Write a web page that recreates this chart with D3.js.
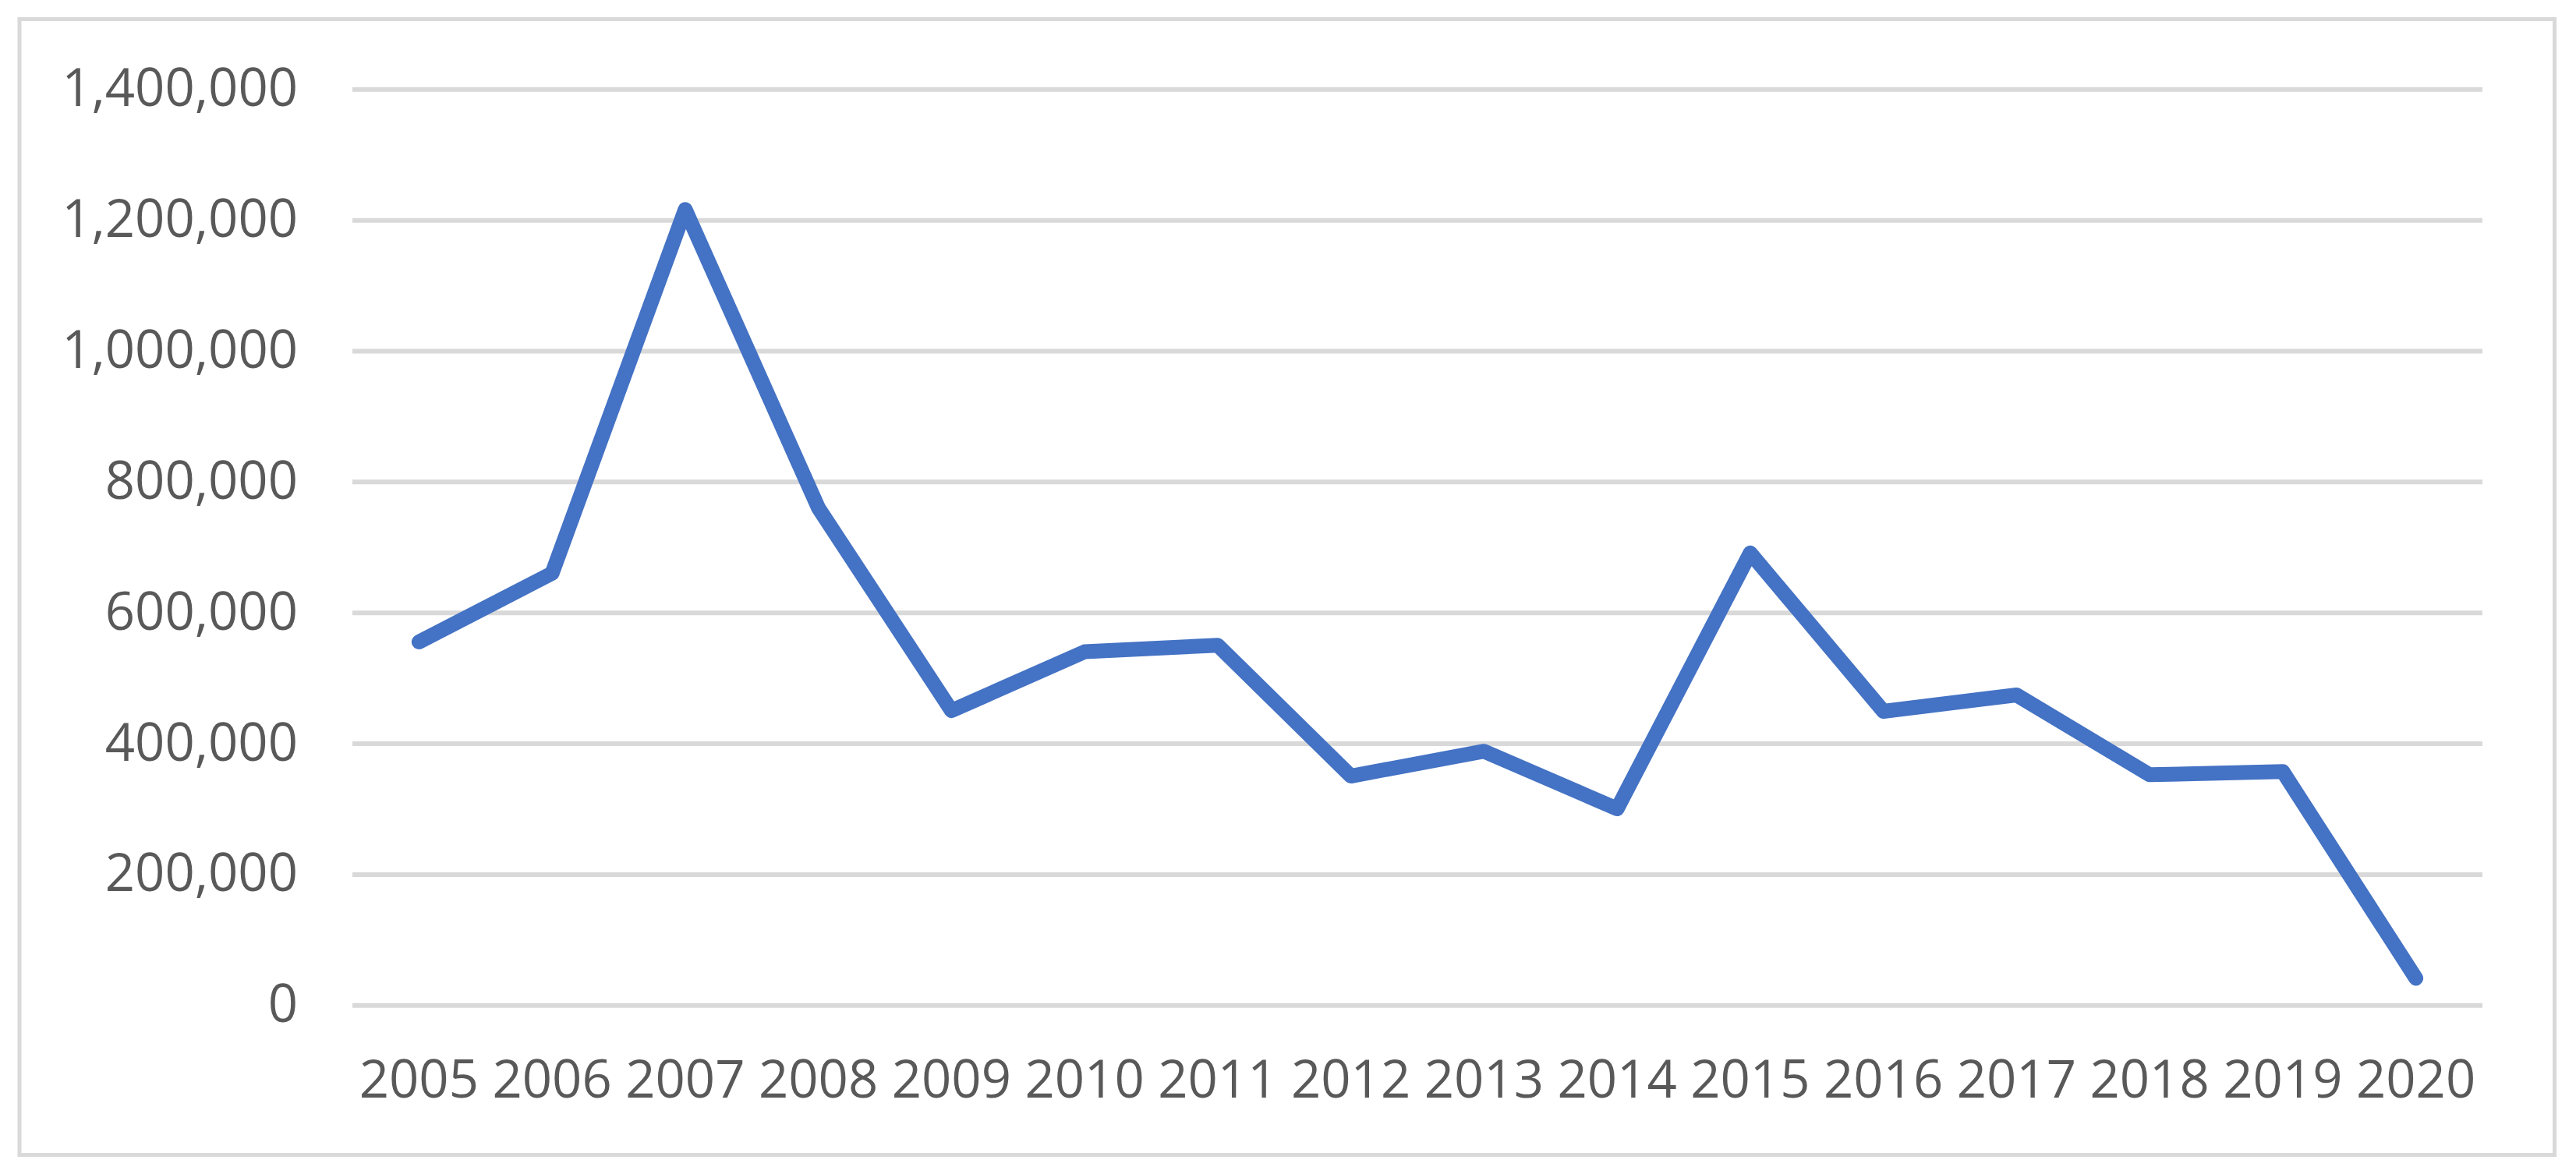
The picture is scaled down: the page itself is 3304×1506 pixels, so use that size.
<!DOCTYPE html>
<html>
<head>
<meta charset="utf-8">
<script src="https://cdn.jsdelivr.net/npm/d3@7"></script>
<style>
  html, body { margin: 0; padding: 0; background: #ffffff; }
  svg { display: block; }
</style>
</head>
<body>
<svg id="chart" width="3304" height="1506"></svg>
<script>
const years = ["2005","2006","2007","2008","2009","2010","2011","2012","2013","2014","2015","2016","2017","2018","2019","2020"];
const values = [555000, 660000, 1216000, 760000, 450000, 540000, 550000, 350000, 388000, 300000, 691000, 449000, 474000, 352000, 357000, 41000];
const yTicks = [0, 200000, 400000, 600000, 800000, 1000000, 1200000, 1400000];

const W = 3304, H = 1506;
const plot = { left: 452, right: 3184, top: 114.3, bottom: 1289.3 };
const font = "'Open Sans', sans-serif";
const textColor = "#595959";
const gridColor = "#d9d9d9";

const svg = d3.select("#chart");

svg.append("rect").attr("x", 0).attr("y", 0).attr("width", W).attr("height", H).attr("fill", "#ffffff");

// outer chart border
svg.append("rect")
  .attr("x", 25).attr("y", 24.5)
  .attr("width", 3251.5).attr("height", 1457)
  .attr("fill", "none")
  .attr("stroke", gridColor)
  .attr("stroke-width", 5);

const x = d3.scaleBand().domain(years).range([plot.left, plot.right]).padding(0);
const y = d3.scaleLinear().domain([0, 1400000]).range([plot.bottom, plot.top]);

// gridlines
const grid = svg.append("g")
  .attr("transform", `translate(${plot.left},0)`)
  .call(d3.axisLeft(y).tickValues(yTicks).tickSize(-(plot.right - plot.left)).tickFormat(""));
grid.select(".domain").remove();
grid.selectAll("line").attr("stroke", gridColor).attr("stroke-width", 6);

// y axis labels
const yAxis = svg.append("g")
  .attr("transform", `translate(${plot.left},0)`)
  .call(d3.axisLeft(y).tickValues(yTicks).tickSize(0).tickPadding(70).tickFormat(d3.format(",")));
yAxis.select(".domain").remove();
yAxis.selectAll("text")
  .attr("font-family", font).attr("font-size", 67).attr("fill", textColor);

// x axis labels
const xAxis = svg.append("g")
  .attr("transform", `translate(0,${plot.bottom})`)
  .call(d3.axisBottom(x).tickSize(0).tickPadding(71));
xAxis.select(".domain").remove();
xAxis.selectAll("text")
  .attr("font-family", font).attr("font-size", 67).attr("fill", textColor);

// line
const data = years.map((yr, i) => ({ year: yr, value: values[i] }));
const line = d3.line()
  .x(d => x(d.year) + x.bandwidth() / 2)
  .y(d => y(d.value));

svg.append("path")
  .datum(data)
  .attr("d", line)
  .attr("fill", "none")
  .attr("stroke", "#4472C4")
  .attr("stroke-width", 19)
  .attr("stroke-linejoin", "round")
  .attr("stroke-linecap", "round");
</script>
</body>
</html>
